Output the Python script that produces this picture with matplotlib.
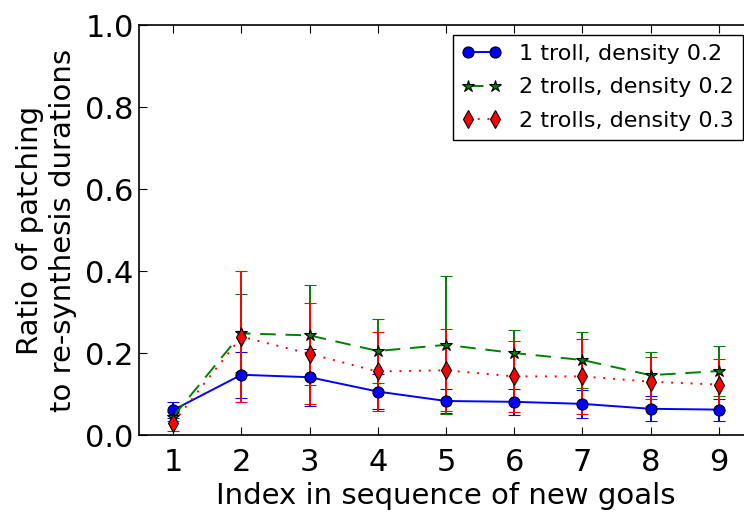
import matplotlib
matplotlib.use("Agg")
import matplotlib.pyplot as plt
from matplotlib.lines import Line2D

goal_index = [1, 2, 3, 4, 5, 6, 7, 8, 9]

one_troll_02 = [0.061, 0.147, 0.141, 0.106, 0.083, 0.081, 0.076, 0.064, 0.062]
one_troll_02_err = [0.020, 0.056, 0.070, 0.043, 0.030, 0.031, 0.034, 0.030, 0.027]

two_trolls_02 = [0.045, 0.248, 0.243, 0.205, 0.220, 0.200, 0.183, 0.146, 0.156]
two_trolls_02_err = [0.010, 0.095, 0.122, 0.077, 0.168, 0.056, 0.069, 0.057, 0.060]

two_trolls_03 = [0.030, 0.240, 0.198, 0.155, 0.158, 0.143, 0.143, 0.130, 0.123]
two_trolls_03_err = [0.020, 0.160, 0.123, 0.097, 0.100, 0.087, 0.092, 0.060, 0.062]

series = [
    ("1 troll, density 0.2", one_troll_02, one_troll_02_err, "b", (None, None), "o", 8),
    ("2 trolls, density 0.2", two_trolls_02, two_trolls_02_err, "g", (8, 5), "*", 9),
    ("2 trolls, density 0.3", two_trolls_03, two_trolls_03_err, "r", (1, 4), "d", 9),
]

plt.rcParams["font.family"] = "DejaVu Sans"
fig = plt.figure(figsize=(7.44, 5.13), dpi=100)
ax = fig.add_axes([0.187, 0.152, 0.825, 0.799])

handles = []
for label, values, errs, color, dashes, marker, ms in series:
    style = dict(color=color, linewidth=1.4, marker=marker, markersize=ms,
                 markeredgecolor="black", markeredgewidth=0.8)
    if dashes[0] is not None:
        style["dashes"] = dashes
    else:
        style["linestyle"] = "-"
    ax.errorbar(goal_index, values, yerr=errs, elinewidth=1.4, capsize=4,
                capthick=1.2, **style)
    handles.append(Line2D([], [], label=label, **style))

ax.set_xlim(0.5, 9.5)
ax.set_ylim(0.0, 1.0)
ax.set_xticks(goal_index)
ax.set_yticks([0.0, 0.2, 0.4, 0.6, 0.8, 1.0])
ax.tick_params(direction="in", top=True, right=True, labelsize=22, length=6)
ax.tick_params(axis="y", pad=4)
ax.tick_params(axis="x", pad=9)
for spine in ax.spines.values():
    spine.set_linewidth(1.2)

ax.set_xlabel("Index in sequence of new goals", fontsize=21, labelpad=4)
ax.set_ylabel("Ratio of patching\nto re-synthesis durations", fontsize=21,
              labelpad=6)

leg = ax.legend(handles=handles, loc="upper right", numpoints=2, fontsize=16,
                fancybox=False, framealpha=1.0, borderaxespad=0.45,
                handlelength=1.8, handletextpad=0.8, borderpad=0.4,
                labelspacing=0.6)
leg.get_frame().set_edgecolor("black")
leg.get_frame().set_linewidth(1.0)

fig.savefig("out.png", dpi=100)
